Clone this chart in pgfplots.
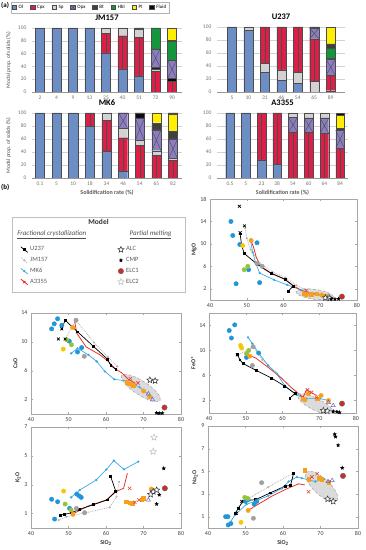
\documentclass[border=0pt]{standalone}
\usepackage{pgfplots}
\pgfplotsset{compat=1.18}
\usepackage{fontspec}
\setmainfont{Carlito}

\definecolor{olc}{RGB}{108,142,196}
\definecolor{cpxc}{RGB}{222,30,70}
\definecolor{spc}{RGB}{210,210,210}
\definecolor{opxc}{RGB}{140,125,192}
\definecolor{btc}{RGB}{64,64,64}
\definecolor{hblc}{RGB}{20,150,60}
\definecolor{plc}{RGB}{255,238,0}
\definecolor{flc}{RGB}{10,10,10}
\definecolor{ptblue}{RGB}{30,150,215}
\definecolor{ptorange}{RGB}{247,160,30}
\definecolor{ptyellow}{RGB}{245,200,10}
\definecolor{ptgreen}{RGB}{150,195,60}
\definecolor{ptgrey}{RGB}{160,160,160}
\definecolor{ptred}{RGB}{232,65,55}
\definecolor{ptpurple}{RGB}{110,100,190}
\definecolor{elcred}{RGB}{205,45,40}
\definecolor{mkcyan}{RGB}{60,170,225}
\definecolor{a3red}{RGB}{232,50,40}
\definecolor{axgrey}{RGB}{150,150,150}

\pgfdeclareplotmark{fstar}{%
  \pgfpathmoveto{\pgfpointpolar{90}{\pgfplotmarksize}}%
  \pgfpathlineto{\pgfpointpolar{126}{0.45\pgfplotmarksize}}%
  \pgfpathlineto{\pgfpointpolar{162}{\pgfplotmarksize}}%
  \pgfpathlineto{\pgfpointpolar{198}{0.45\pgfplotmarksize}}%
  \pgfpathlineto{\pgfpointpolar{234}{\pgfplotmarksize}}%
  \pgfpathlineto{\pgfpointpolar{270}{0.45\pgfplotmarksize}}%
  \pgfpathlineto{\pgfpointpolar{306}{\pgfplotmarksize}}%
  \pgfpathlineto{\pgfpointpolar{342}{0.45\pgfplotmarksize}}%
  \pgfpathlineto{\pgfpointpolar{18}{\pgfplotmarksize}}%
  \pgfpathlineto{\pgfpointpolar{54}{0.45\pgfplotmarksize}}%
  \pgfpathclose
  \pgfusepathqfillstroke}

\tikzset{ell/.style={densely dashed, draw=gray!80, fill=gray!28, line width=0.4pt}}

\pgfplotsset{
  barax/.style={scale only axis, ybar stacked, bar width=0.55,
    axis x line=bottom, axis y line=left,
    x axis line style={-, draw=axgrey, line width=0.6pt},
    y axis line style={draw=none},
    ymajorgrids, grid style={gray!35, line width=0.4pt},
    xtick style={draw=none}, ytick style={draw=none},
    ytick={0,20,...,100},
    tick label style={font=\fontsize{5.5}{6}\selectfont, text=black!55},
    xticklabel style={inner sep=1pt, text height=3.8pt, text depth=0pt},
    /pgf/number format/assume math mode=true,
    title style={font=\bfseries\fontsize{8.5}{9}\selectfont, inner sep=0pt, text height=6pt, text depth=0pt, yshift=1.5pt},
    ylabel style={font=\fontsize{5.5}{6}\selectfont, text=black!70},
    xlabel style={font=\bfseries\fontsize{6}{7}\selectfont, text=black!65},
    every axis plot/.append style={draw=black!70, line width=0.35pt},
  },
  ovax/.style={scale only axis, hide axis},
  ovl/.style={black!70, line width=0.4pt, unbounded coords=jump, forget plot},
  jmpos/.style={at={(32pt,458pt)}, anchor=south west, width=150pt, height=64pt, xmin=-0.48, xmax=8.6, ymin=0, ymax=100},
  upos/.style={at={(217pt,458pt)}, anchor=south west, width=128pt, height=65pt, xmin=-0.91, xmax=6.87, ymin=0, ymax=100},
  mkpos/.style={at={(32pt,372pt)}, anchor=south west, width=150pt, height=65pt, xmin=-0.48, xmax=8.54, ymin=0, ymax=100},
  apos/.style={at={(217pt,372pt)}, anchor=south west, width=131pt, height=65pt, xmin=-0.83, xmax=7.5, ymin=0, ymax=100},
  scax/.style={scale only axis, xmin=40, xmax=80, xtick={40,50,...,80},
    axis line style={draw=gray!70, line width=0.6pt}, tick style={draw=gray!70},
    tick align=inside, major tick length=2pt,
    tick label style={font=\fontsize{6}{7}\selectfont, text=black!75},
    /pgf/number format/assume math mode=true,
    label style={font=\bfseries\fontsize{6}{7}\selectfont, text=black!80},
    xlabel style={yshift=2pt}, ylabel style={yshift=-3pt}},
  pblue/.style={only marks, mark=*, mark size=2.2pt, mark options={fill=ptblue, draw=ptblue}},
  porange/.style={only marks, mark=*, mark size=2.2pt, mark options={fill=ptorange, draw=ptorange}},
  pyellow/.style={only marks, mark=*, mark size=2.2pt, mark options={fill=ptyellow, draw=ptyellow}},
  pgreen/.style={only marks, mark=*, mark size=2.2pt, mark options={fill=ptgreen, draw=ptgreen}},
  pgrey/.style={only marks, mark=*, mark size=2.2pt, mark options={fill=ptgrey, draw=ptgrey}},
  psq/.style={only marks, mark=square*, mark size=1.8pt, mark options={fill=ptorange, draw=ptorange}},
  pxr/.style={only marks, mark=x, mark size=2.4pt, mark options={draw=ptred, line width=0.6pt}},
  ptri/.style={only marks, mark=triangle, mark size=2.4pt, mark options={draw=ptpurple, line width=0.5pt}},
  palc/.style={only marks, mark=fstar, mark size=3.2pt, mark options={fill=white, draw=black!80, line width=0.5pt}},
  pcmp/.style={only marks, mark=fstar, mark size=1.7pt, mark options={fill=black, draw=black}},
  pelc1/.style={only marks, mark=*, mark size=2.7pt, mark options={fill=elcred, draw=black!60, line width=0.4pt}},
  pelc2/.style={only marks, mark=fstar, mark size=3.4pt, mark options={fill=white, draw=gray!50, line width=0.5pt}},
  pbx/.style={only marks, mark=x, mark size=2pt, mark options={draw=black, line width=0.7pt}},
  mU/.style={black, line width=0.7pt, mark=square*, mark size=0.9pt, mark options={fill=black}},
  mJ/.style={gray!60, line width=0.8pt, densely dotted, mark=*, mark size=0.6pt, mark options={solid, fill=gray!60}},
  mM/.style={mkcyan, line width=0.7pt, mark=*, mark size=0.8pt, mark options={fill=mkcyan, draw=mkcyan}},
  mA/.style={a3red, line width=0.8pt},
}

\begin{document}
\begin{tikzpicture}
\path[use as bounding box] (0pt,0pt) rectangle (365pt,550pt);
\node[anchor=north west, font=\bfseries\fontsize{7}{8}\selectfont, inner sep=0pt] at (1pt,548pt) {(a)};
\node[anchor=north west, font=\bfseries\fontsize{7}{8}\selectfont, inner sep=0pt] at (1pt,366pt) {(b)};

% ---------- top legend ----------
\begin{axis}[scale only axis, hide axis, at={(18pt,537pt)}, anchor=south west, width=144pt, height=11pt,
  xmin=0, xmax=1, ymin=0, ymax=1,
  legend columns=8,
  legend image code/.code={\draw[#1] (0pt,-2.2pt) rectangle (4.6pt,2.2pt);},
  legend style={at={(0.5,0.5)}, anchor=center, draw=gray!60, font=\fontsize{5}{6}\selectfont, inner sep=1pt,
    /tikz/every even column/.append style={column sep=5pt}}]
\addlegendimage{fill=olc, draw=black!70}\addlegendentry{Ol}
\addlegendimage{fill=cpxc, draw=black!70}\addlegendentry{Cpx}
\addlegendimage{fill=spc, draw=black!70}\addlegendentry{Sp}
\addlegendimage{legend image code/.code={\draw[fill=opxc, draw=black!70] (0pt,-2.2pt) rectangle (4.6pt,2.2pt); \draw[black!70] (0pt,-2.2pt) -- (4.6pt,2.2pt) (0pt,2.2pt) -- (4.6pt,-2.2pt);}}\addlegendentry{Opx}
\addlegendimage{fill=btc, draw=black!70}\addlegendentry{Bt}
\addlegendimage{fill=hblc, draw=black!70}\addlegendentry{Hbl}
\addlegendimage{fill=plc, draw=black!70}\addlegendentry{Pl}
\addlegendimage{fill=flc, draw=black!70}\addlegendentry{Fluid}
\end{axis}

% ---------- JM157 ----------
\begin{axis}[barax, jmpos, title={JM157}, xtick={0,...,8}, xticklabels={2,4,9,13,25,40,51,72,90},
  ylabel={Modal prop. of solids (\%)}]
\addplot[fill=olc] coordinates {(0,100)(1,100)(2,100)(3,100)(4,61)(5,36)(6,25)(7,0)(8,0)};
\addplot[fill=cpxc] coordinates {(0,0)(1,0)(2,0)(3,0)(4,31)(5,52)(6,60)(7,32)(8,17)};
\addplot[fill=spc] coordinates {(0,0)(1,0)(2,0)(3,0)(4,8)(5,12)(6,13)(7,4)(8,0)};
\addplot[fill=flc] coordinates {(0,0)(1,0)(2,0)(3,0)(4,0)(5,0)(6,0)(7,3)(8,4)};
\addplot[fill=opxc] coordinates {(0,0)(1,0)(2,0)(3,0)(4,0)(5,0)(6,0)(7,28)(8,29)};
\addplot[fill=hblc] coordinates {(0,0)(1,0)(2,0)(3,0)(4,0)(5,0)(6,0)(7,33)(8,29)};
\addplot[fill=btc] coordinates {(0,0)(1,0)(2,0)(3,0)(4,0)(5,0)(6,2)(7,0)(8,2)};
\addplot[fill=plc] coordinates {(0,0)(1,0)(2,0)(3,0)(4,0)(5,0)(6,0)(7,0)(8,19)};
\end{axis}
\begin{axis}[ovax, jmpos]
\addplot[ovl] coordinates {(4,61)(4,92)(4,nan)(5,36)(5,88)(5,nan)(6,25)(6,85)(6,nan)(7,0)(7,32)(7,nan)(8,0)(8,17)};
\addplot[ovl] coordinates {(6.725,39)(7.275,67)(6.725,67)(7.275,39)(7,nan)(7.725,21)(8.275,50)(7.725,50)(8.275,21)};
\end{axis}

% ---------- U237 ----------
\begin{axis}[barax, upos, title={U237}, xtick={0,...,6}, xticklabels={5,10,31,46,54,65,89}]
\addplot[fill=olc] coordinates {(0,100)(1,95)(2,30)(3,18)(4,13)(5,0)(6,0)};
\addplot[fill=spc] coordinates {(0,0)(1,5)(2,14)(3,16)(4,17)(5,16)(6,2)};
\addplot[fill=cpxc] coordinates {(0,0)(1,0)(2,56)(3,66)(4,70)(5,66)(6,24)};
\addplot[fill=opxc] coordinates {(0,0)(1,0)(2,0)(3,0)(4,0)(5,16)(6,24)};
\addplot[fill=flc] coordinates {(0,0)(1,0)(2,0)(3,0)(4,0)(5,0)(6,2)};
\addplot[fill=hblc] coordinates {(0,0)(1,0)(2,0)(3,0)(4,0)(5,0)(6,16)};
\addplot[fill=btc] coordinates {(0,0)(1,0)(2,0)(3,0)(4,0)(5,2)(6,6)};
\addplot[fill=plc] coordinates {(0,0)(1,0)(2,0)(3,0)(4,0)(5,0)(6,26)};
\end{axis}
\begin{axis}[ovax, upos]
\addplot[ovl] coordinates {(2,44)(2,100)(2,nan)(3,34)(3,100)(3,nan)(4,30)(4,100)(4,nan)(5,16)(5,82)(5,nan)(6,2)(6,26)};
\addplot[ovl] coordinates {(4.725,82)(5.275,98)(4.725,98)(5.275,82)(5,nan)(5.725,26)(6.275,50)(5.725,50)(6.275,26)};
\end{axis}

% ---------- MK6 ----------
\begin{axis}[barax, mkpos, title={MK6}, xtick={0,...,8}, xticklabels={0.1,5,10,18,34,46,54,65,82},
  ylabel={Modal prop. of solids (\%)}, xlabel={Solidification rate (\%)}]
\addplot[fill=olc] coordinates {(0,100)(1,100)(2,100)(3,79)(4,41)(5,11)(6,0)(7,0)(8,0)};
\addplot[fill=cpxc] coordinates {(0,0)(1,0)(2,0)(3,21)(4,48)(5,51)(6,50)(7,35)(8,27)};
\addplot[fill=spc] coordinates {(0,0)(1,0)(2,0)(3,0)(4,11)(5,14)(6,8)(7,7)(8,3)};
\addplot[fill=opxc] coordinates {(0,0)(1,0)(2,0)(3,0)(4,0)(5,24)(6,34)(7,32)(8,30)};
\addplot[fill=btc] coordinates {(0,0)(1,0)(2,0)(3,0)(4,0)(5,0)(6,0)(7,10)(8,12)};
\addplot[fill=hblc] coordinates {(0,0)(1,0)(2,0)(3,0)(4,0)(5,0)(6,0)(7,1)(8,0)};
\addplot[fill=plc] coordinates {(0,0)(1,0)(2,0)(3,0)(4,0)(5,0)(6,0)(7,15)(8,26)};
\addplot[fill=flc] coordinates {(0,0)(1,0)(2,0)(3,0)(4,0)(5,0)(6,8)(7,0)(8,2)};
\end{axis}
\begin{axis}[ovax, mkpos]
\addplot[ovl] coordinates {(3,79)(3,100)(3,nan)(4,41)(4,89)(4,nan)(5,11)(5,62)(5,nan)(6,0)(6,50)(6,nan)(7,0)(7,35)(7,nan)(8,0)(8,27)};
\addplot[ovl] coordinates {(4.725,76)(5.275,100)(4.725,100)(5.275,76)(5,nan)(5.725,58)(6.275,92)(5.725,92)(6.275,58)(6,nan)(6.725,42)(7.275,74)(6.725,74)(7.275,42)(7,nan)(7.725,30)(8.275,60)(7.725,60)(8.275,30)};
\end{axis}

% ---------- A3355 ----------
\begin{axis}[barax, apos, title={A3355}, xtick={0,...,7}, xticklabels={0.5,5,23,38,54,60,64,84},
  xlabel={Solidification rate (\%)}]
\addplot[fill=olc] coordinates {(0,100)(1,100)(2,28)(3,21)(4,0)(5,0)(6,0)(7,0)};
\addplot[fill=cpxc] coordinates {(0,0)(1,0)(2,72)(3,79)(4,71)(5,70)(6,69)(7,46)};
\addplot[fill=opxc] coordinates {(0,0)(1,0)(2,0)(3,0)(4,22)(5,22)(6,23)(7,27)};
\addplot[fill=spc] coordinates {(0,0)(1,0)(2,0)(3,0)(4,7)(5,8)(6,8)(7,0)};
\addplot[fill=btc] coordinates {(0,0)(1,0)(2,0)(3,0)(4,0)(5,0)(6,0)(7,3)};
\addplot[fill=plc] coordinates {(0,0)(1,0)(2,0)(3,0)(4,0)(5,0)(6,0)(7,21)};
\addplot[fill=flc] coordinates {(0,0)(1,0)(2,0)(3,0)(4,0)(5,0)(6,0)(7,3)};
\end{axis}
\begin{axis}[ovax, apos]
\addplot[ovl] coordinates {(2,28)(2,100)(2,nan)(3,21)(3,100)(3,nan)(4,0)(4,71)(4,nan)(5,0)(5,70)(5,nan)(6,0)(6,69)(6,nan)(7,0)(7,46)};
\addplot[ovl] coordinates {(3.725,71)(4.275,93)(3.725,93)(4.275,71)(4,nan)(4.725,70)(5.275,92)(4.725,92)(5.275,70)(5,nan)(5.725,69)(6.275,92)(5.725,92)(6.275,69)(6,nan)(6.725,46)(7.275,73)(6.725,73)(7.275,46)};
\end{axis}

% ---------- model legend box ----------
\begin{axis}[scale only axis, at={(12pt,258pt)}, anchor=south west, width=173pt, height=75pt,
  xmin=0, xmax=1, ymin=0, ymax=1, xtick=\empty, ytick=\empty,
  axis line style={draw=gray!50, line width=0.5pt},
  legend columns=2, legend cell align=left,
  legend image code/.code={\draw[mark repeat=2, mark phase=2, #1] plot coordinates {(0pt,2.8pt) (3.5pt,0pt) (7pt,-2.8pt)};},
  legend style={draw=none, fill=none, at={(0.03,0.04)}, anchor=south west, text=black!65,
    font=\fontsize{6.5}{7}\selectfont, row sep=1pt, /tikz/column 2/.style={column sep=68pt}}]
\addlegendimage{mU}\addlegendentry{U237}
\addlegendimage{palc}\addlegendentry{ALC}
\addlegendimage{mJ}\addlegendentry{JM157}
\addlegendimage{pcmp}\addlegendentry{CMP}
\addlegendimage{mM}\addlegendentry{MK6}
\addlegendimage{pelc1}\addlegendentry{ELC1}
\addlegendimage{mA, mark=x, mark size=1.5pt}\addlegendentry{A3355}
\addlegendimage{pelc2}\addlegendentry{ELC2}
\node[font=\bfseries\fontsize{7.5}{8}\selectfont, text=black!80] at (rel axis cs:0.5,0.93) {Model};
\node[anchor=west, font=\itshape\fontsize{7}{8}\selectfont, text=black!70] at (rel axis cs:0.01,0.76) {\underline{Fractional crystallization}};
\node[anchor=west, font=\itshape\fontsize{7}{8}\selectfont, text=black!70] at (rel axis cs:0.66,0.76) {\underline{Partial melting}};
\end{axis}

% ---------- MgO ----------
\begin{axis}[scax, at={(210pt,250pt)}, anchor=south west, width=147pt, height=101pt,
  ymin=0, ymax=18, ytick={2,6,10,14,18}, ylabel={MgO}]
\draw[ell, rotate around={-8:(axis cs:68.5,1.0)}] (axis cs:68.5,1.0) ellipse [x radius=19pt, y radius=5pt];
\addplot[mJ] coordinates {(49.6,12.8)(50,11)(51,9)(53.5,6.6)(57,5)(60.5,4)(63.5,2.6)(66,1.8)};
\addplot[mM] coordinates {(51,10.8)(51.6,8.5)(52.5,6.5)(53.5,4.8)(57.4,3.6)(61,2.7)(64.7,1.8)(68,1.2)(71,0.8)};
\addplot[mA] coordinates {(51.2,10.5)(51.8,9.5)(52.6,7.6)(54,5.8)(56,5.0)(60,3.8)(63,2.4)(66,1.3)(70,0.9)};
\addplot[mU] coordinates {(48.2,11.8)(48.6,9.8)(49.3,8.3)(52.8,6.4)(56.8,4.7)(60.4,3.7)(62.7,2.5)(61.3,1.6)};
\addplot[pblue] coordinates {(45.7,14)(46.2,11.5)(48.1,9.9)(52.8,10.2)(47.1,2.9)(53.5,3.1)(50.5,5.4)};
\addplot[pgreen] coordinates {(49.3,5.4)(50.3,6.0)};
\addplot[pyellow] coordinates {(48.9,9.7)};
\addplot[porange] coordinates {(51.2,10.6)(66.2,0.9)(70.4,0.9)};
\addplot[pgrey] coordinates {(52.8,6.5)(54.2,6.0)};
\addplot[psq] coordinates {(65.5,1.2)(67.5,1.0)(69,1.1)(71.5,0.8)};
\addplot[pxr] coordinates {(66.2,1.7)};
\addplot[ptri] coordinates {(72.3,0.6)};
\addplot[palc] coordinates {(71.4,0.4)(72.6,0.3)};
\addplot[pcmp] coordinates {(73,0.2)(74,0.15)(75,0.2)};
\addplot[pelc1] coordinates {(75.9,0.6)};
\addplot[pbx] coordinates {(48,16.7)(49.4,13.2)(48.2,12.0)};
\end{axis}

% ---------- CaO ----------
\begin{axis}[scax, at={(31pt,136pt)}, anchor=south west, width=150pt, height=101pt,
  ymin=0, ymax=14, ytick={2,6,10,14}, ylabel={CaO}]
\draw[ell, rotate around={-33:(axis cs:69.3,3.6)}] (axis cs:69.3,3.6) ellipse [x radius=23pt, y radius=7pt];
\addplot[mJ] coordinates {(49.1,10.4)(52,13.0)(56.8,9.9)(60.5,7.9)(63,6.6)};
\addplot[mM] coordinates {(50.7,8.4)(52.4,9.1)(55.3,8.2)(57.5,7.3)(59.7,5.9)(62.2,4.8)(65.5,4.6)(69,3.7)(72.2,2.3)};
\addplot[mA] coordinates {(51.6,13.0)(52.2,11.2)(54.7,9.3)(58.4,8.2)(60.6,7.3)(62.4,6.3)(64.2,5.7)(66,4.8)(67.7,4.3)};
\addplot[mU] coordinates {(48.2,11.8)(49.1,13.0)(52.4,11.4)(56.6,9.4)(60.4,7.6)(61.3,6.7)(62.6,6.2)};
\addplot[pblue] coordinates {(45.5,11.8)(46.2,12.5)(47.1,13.2)(48.2,12.3)(50.2,10.1)(52.4,8.6)(53.5,9.2)};
\addplot[pyellow] coordinates {(48.6,9.0)};
\addplot[pgreen] coordinates {(49.5,10.3)(50.8,9.6)};
\addplot[porange] coordinates {(51.1,12.0)(66,4.2)(66.8,4.1)(70,3.2)(71.6,2.4)};
\addplot[pgrey] coordinates {(52,13.0)(54.2,8.0)};
\addplot[psq] coordinates {(65.5,4.4)(67.2,4.0)};
\addplot[pxr] coordinates {(66.5,4.9)(68.5,4.3)};
\addplot[ptri] coordinates {(71.3,2.8)(72.4,2.0)};
\addplot[palc] coordinates {(71.7,4.7)(73.1,4.6)};
\addplot[pcmp] coordinates {(73.5,0.15)(74.2,0.1)(75,0.12)};
\addplot[pelc1] coordinates {(75.6,0.9)};
\addplot[pbx] coordinates {(47.3,10.4)(49.1,10.4)(48.2,11.8)};
\end{axis}

% ---------- FeO* ----------
\begin{axis}[scax, at={(209pt,137pt)}, anchor=south west, width=147pt, height=100pt,
  ymin=0, ymax=16, ytick={2,6,10,14}, ylabel={FeO*}]
\draw[ell, rotate around={-27:(axis cs:69,1.4)}] (axis cs:69,1.4) ellipse [x radius=20pt, y radius=6pt];
\addplot[mJ] coordinates {(47.7,9.2)(52,10.6)(54.5,8.5)(58,6.6)(61.5,4.6)(64.5,3.0)};
\addplot[mM] coordinates {(50.6,12.1)(51.8,11.1)(53.5,9.6)(56.1,7.6)(58.4,6.3)(60.6,4.4)(63.8,2.9)(66.5,2.3)(70.2,2.3)(72.5,2.0)};
\addplot[mA] coordinates {(51.1,9.2)(52.7,8.8)(56.1,7.3)(59.3,5.8)(62.5,4.0)(65.6,2.5)(66.5,3.7)(69.3,2.8)};
\addplot[mU] coordinates {(47.7,9.4)(48.4,8.5)(49.3,7.9)(52.9,6.8)(57,5.6)(60.6,4.3)(63.4,3.1)(62,2.4)};
\addplot[pblue] coordinates {(45.5,13.2)(47,14.1)(46.1,12)(50.2,8.9)(53.5,9.6)};
\addplot[pyellow] coordinates {(48.6,10.8)(48.9,10.4)};
\addplot[pgreen] coordinates {(50.2,9.5)(50.8,10.0)};
\addplot[pgrey] coordinates {(52,10.6)(51.8,7.6)};
\addplot[porange] coordinates {(51.1,9.1)(67,3.1)(70.5,2.8)(66.1,2.1)(72.5,2.0)};
\addplot[psq] coordinates {(65.5,2.3)(69.5,2.3)};
\addplot[pxr] coordinates {(66.8,3.7)(67.9,3.3)(69.3,2.5)};
\addplot[ptri] coordinates {(72.5,1.7)(73.8,1.2)};
\addplot[palc] coordinates {(71.1,0.4)(72.2,0.3)};
\addplot[pcmp] coordinates {(73.8,0.25)(74.8,0.2)(75.5,0.1)};
\addplot[pelc1] coordinates {(76.2,1.5)};
\addplot[pbx] coordinates {(47.7,9.3)};
\end{axis}

% ---------- K2O ----------
\begin{axis}[scax, at={(31pt,22pt)}, anchor=south west, width=150pt, height=101pt,
  ymin=0, ymax=7, ytick={1,3,5,7}, ylabel={K\textsubscript{2}O}, xlabel={SiO\textsubscript{2}}]
\addplot[mJ] coordinates {(47.4,0.55)(49.4,0.78)(54.7,1.06)(61,1.43)(62.8,2.17)(63.5,3.2)};
\addplot[mM] coordinates {(50.7,2.12)(53,2.63)(57.4,3.33)(60.1,4.06)(62.1,4.67)(64.8,4.06)(68.6,4.6)};
\addplot[mA] coordinates {(50.7,0.95)(51.3,1.0)(55.2,1.52)(60.1,1.94)(62.8,2.55)(64.7,2.75)(65.7,3.8)};
\addplot[mU] coordinates {(47.9,0.9)(49,0.95)(50.7,1.05)(53,1.3)(56.7,1.62)(60.3,1.95)(62.6,2.55)(61.2,3.6)};
\addplot[pblue] coordinates {(45.5,1.99)(47.1,1.82)(46.3,0.62)(50.3,1.36)(52.2,2.35)(52.9,2.22)(53.4,2.12)};
\addplot[pyellow] coordinates {(48.7,2.56)};
\addplot[pgreen] coordinates {(49.1,1.66)(50.7,1.25)};
\addplot[pgrey] coordinates {(52.1,1.36)(54.3,1.06)};
\addplot[porange] coordinates {(51.2,0.95)(72.1,2.7)};
\addplot[psq] coordinates {(65.4,1.82)(66.4,1.75)(67,1.7)(69.5,1.95)(70,2.06)};
\addplot[pxr] coordinates {(66.3,2.75)(67.7,1.78)(68.8,1.94)};
\addplot[ptri] coordinates {(71.3,1.94)};
\addplot[palc] coordinates {(72.6,2.52)(73.5,2.63)(71.9,2.33)};
\addplot[pcmp] coordinates {(73.5,1.66)(75.4,4.13)(74.2,2.3)};
\addplot[pelc1] coordinates {(75.7,2.75)};
\addplot[pelc2] coordinates {(72.8,6.28)(72.6,5.29)};
\end{axis}

% ---------- Na2O ----------
\begin{axis}[scax, at={(208pt,22pt)}, anchor=south west, width=150pt, height=102pt,
  ymin=0, ymax=9, ytick={1,3,5,7,9}, ylabel={Na\textsubscript{2}O}, xlabel={SiO\textsubscript{2}}]
\draw[ell, rotate around={-43:(axis cs:70.3,3.65)}] (axis cs:70.3,3.65) ellipse [x radius=21pt, y radius=8pt];
\addplot[mJ] coordinates {(48,1.8)(49.8,2.4)(56,3.6)(62.8,4.86)};
\addplot[mM] coordinates {(45.5,0.3)(47.2,1.15)(50.3,2.1)(52.5,2.35)(56.1,2.85)(59.7,3.5)(61.5,4.1)(63.7,4.5)(65,4.4)(68.6,4.1)(70.9,4.3)};
\addplot[mA] coordinates {(50.7,1.55)(53.4,2.1)(57,2.8)(60.6,3.4)(64.2,3.9)(65.8,3.8)};
\addplot[mU] coordinates {(47.3,1.3)(48.1,1.75)(49.4,2.4)(52.7,2.5)(56.6,3.1)(60.6,3.7)(62,3.75)(62.8,4.8)};
\addplot[pblue] coordinates {(45.4,0.27)(46.1,0.39)(44.7,1.0)(45.3,1.0)(50,2.35)(50.7,2.5)(52.3,2.1)(53,2.35)};
\addplot[pyellow] coordinates {(48.8,0.5)};
\addplot[porange] coordinates {(50.7,1.55)};
\addplot[pgreen] coordinates {(49.8,2.7)(50.6,2.6)};
\addplot[pgrey] coordinates {(52.1,0.86)(54.3,4.0)};
\addplot[psq] coordinates {(65.8,5.1)(66.8,4.3)(69.5,4.4)(70.3,4.3)(72.2,4.06)};
\addplot[pxr] coordinates {(66.8,3.2)(69.1,4.8)(67.7,4.5)};
\addplot[ptri] coordinates {(72,4.1)(73.1,4.2)};
\addplot[palc] coordinates {(71.9,2.55)(73.4,2.35)};
\addplot[pcmp] coordinates {(73.8,8.27)(74,8.06)(74.7,7.3)(75.8,5.3)};
\addplot[pelc1] coordinates {(76,4.6)};
\addplot[pbx] coordinates {(47.6,1.3)(49,2.35)};
\end{axis}
\end{tikzpicture}
\end{document}
